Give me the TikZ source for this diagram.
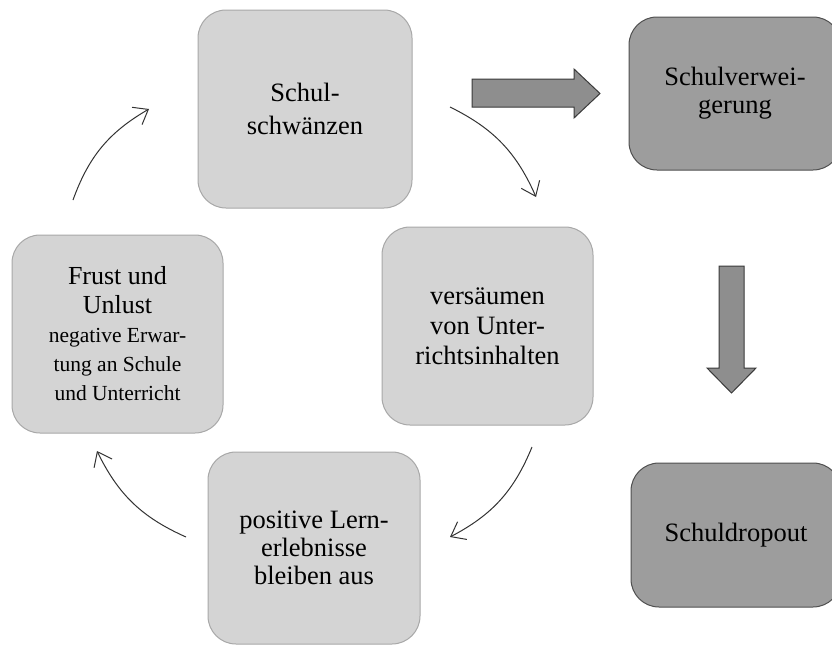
\documentclass[tikz,border=0pt]{standalone}
\usepackage{fontspec}
\setmainfont{Liberation Serif}
\usetikzlibrary{arrows.meta}

\definecolor{lightbox}{HTML}{D4D4D4}
\definecolor{lightedge}{HTML}{A8A8A8}
\definecolor{darkbox}{HTML}{9D9D9D}
\definecolor{darkedge}{HTML}{505050}
\definecolor{blockfill}{HTML}{8E8E8E}
\definecolor{blockedge}{HTML}{3A3A3A}
\definecolor{curvecol}{HTML}{333333}

\newcommand\subfont{\fontsize{21.5}{26}\selectfont}

\begin{document}
\begin{tikzpicture}[x=1pt,y=-1pt,
  stage/.style={draw=lightedge, fill=lightbox, line width=1pt,
    rounded corners=28pt, inner sep=0pt, align=center,
    font=\fontsize{26.5}{30}\selectfont},
  outcome/.style={stage, draw=darkedge, fill=darkbox},
  loopedge/.style={draw=curvecol, line width=1pt,
    -{Straight Barb[length=13pt,width=20pt]}, bend left=20},
  block/.style={draw=blockedge, fill=blockfill, line width=1pt, line join=miter}]

\useasboundingbox (0,0) rectangle (832,645);
\fill[white] (0,0) rectangle (832,645);
\clip (0,0) rectangle (832,645);

% the vicious circle
\node[stage, minimum width=214, minimum height=198,
      font=\fontsize{26.5}{33}\selectfont] (schw) at (305,109) {Schul-\\schwänzen};
\node[stage, minimum width=211, minimum height=198] (vers) at (487.5,326)
  {versäumen\\von Unter-\\richtsinhalten};
\node[stage, minimum width=212, minimum height=192,
      font=\fontsize{26.5}{28}\selectfont] (pos) at (314,548)
  {positive Lern-\\erlebnisse\\bleiben aus};
\node[stage, minimum width=211, minimum height=198,
      font=\fontsize{26}{29}\selectfont] (frust) at (117.5,334)
  {Frust und\\Unlust\\\subfont negative Erwar-\\\subfont tung an Schule\\\subfont und Unterricht};

% consequences
\node[outcome, minimum width=212, minimum height=153,
      font=\fontsize{26.5}{28}\selectfont] (verw) at (735,93.5) {Schulverwei-\\gerung};
\node[outcome, minimum width=210, minimum height=144] (drop) at (736,535) {Schuldropout};

% curved connectors of the circle
\coordinate (a1s) at (450,107); \coordinate (a1e) at (536,197);
\coordinate (a2s) at (532,447); \coordinate (a2e) at (450,537);
\coordinate (a3s) at (186,537); \coordinate (a3e) at (97,451);
\coordinate (a4s) at (73,200);  \coordinate (a4e) at (149,109);
\draw[loopedge] (a1s) to (a1e);
\draw[loopedge] (a2s) to (a2e);
\draw[loopedge] (a3s) to (a3e);
\draw[loopedge] (a4s) to (a4e);

% block arrows towards the consequences
\draw[block] (472,79) -- (574,79) -- (574,69) -- (600,93.5) -- (574,118)
  -- (574,107) -- (472,107) -- cycle;
\draw[block] (719,266) -- (744,266) -- (744,368) -- (756,368) -- (731.5,393)
  -- (707,368) -- (719,368) -- cycle;
\end{tikzpicture}
\end{document}
